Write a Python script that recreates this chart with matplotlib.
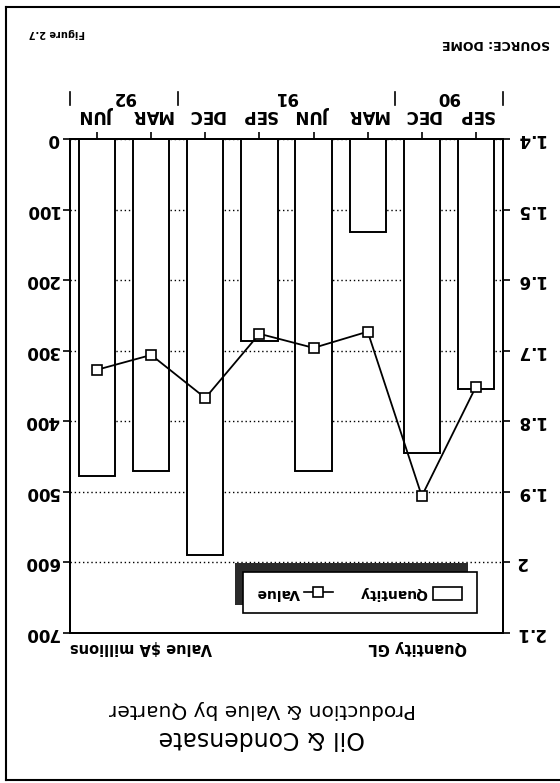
import matplotlib.pyplot as plt
from matplotlib.patches import Rectangle
from matplotlib.lines import Line2D
import matplotlib.transforms as mtransforms
import numpy as np

# quarters, Sep 1990 .. Jun 1992
months = ['SEP', 'DEC', 'MAR', 'JUN', 'SEP', 'DEC', 'MAR', 'JUN']
years = ['90', '91', '92']
year_centres = [0.5, 3.5, 6.5]   # middle of each year's group of quarters
year_breaks = [-0.5, 1.5, 5.5, 7.5]

quantity = [1.754, 1.845, 1.532, 1.870, 1.686, 1.990, 1.870, 1.877]  # GL
value = [351, 506, 273, 296, 276, 367, 306, 327]                      # $A millions

q_ticks = [1.4, 1.5, 1.6, 1.7, 1.8, 1.9, 2.0, 2.1]
q_labels = ['1.4', '1.5', '1.6', '1.7', '1.8', '1.9', '2', '2.1']
v_ticks = [0, 100, 200, 300, 400, 500, 600, 700]

W, H = 560, 783
def fx(px):
    return px / W
def fy(py):
    return 1 - py / H

plt.rcParams['font.family'] = 'DejaVu Sans'

fig = plt.figure(figsize=(5.6, 7.83), dpi=100)
fig.patch.set_facecolor('white')

# the scanned page is upside down, so both axes run backwards and text is turned 180
ax = fig.add_axes([fx(70), fy(633), fx(503) - fx(70), fy(139) - fy(633)])
ax2 = ax.twinx()

x = np.arange(len(months))
ax.bar(x, np.array(quantity) - 1.4, bottom=1.4, width=0.67,
       facecolor='white', edgecolor='black', linewidth=1.4, zorder=2)
ax.set_xlim(7.5, -0.5)
ax.set_ylim(2.1, 1.4)
ax.set_axisbelow(True)
ax.yaxis.grid(True, linestyle=(0, (1, 2)), color='black', linewidth=1.0)

ax2.plot(x, value, color='black', linewidth=1.3, marker='s', markersize=7.5,
         markerfacecolor='white', markeredgecolor='black', markeredgewidth=1.2)
ax2.set_ylim(700, 0)

tick_font = dict(fontsize=12, fontweight='bold', rotation=180)

ax.yaxis.tick_right()
ax.set_yticks(q_ticks, q_labels, va='center', **tick_font)
ax2.yaxis.tick_left()
ax2.set_yticks(v_ticks, [str(v) for v in v_ticks], va='center', **tick_font)

ax.xaxis.tick_top()
ax.set_xticks(x, months, **tick_font)
ax.tick_params(axis='x', direction='out', length=5, width=1.2, pad=6)
ax.tick_params(axis='y', direction='out', length=5, width=1.2, pad=4)
ax2.tick_params(axis='y', direction='out', length=5, width=1.2, pad=3)

for a in (ax, ax2):
    for s in a.spines.values():
        s.set_linewidth(1.4)

# year labels and dividers above the quarter labels
trans = mtransforms.blended_transform_factory(ax.transData, ax.transAxes)
for yc, yr in zip(year_centres, years):
    ax.text(yc, 1.085, yr, transform=trans, ha='center', va='center', **tick_font)
for xb in year_breaks:
    ax.add_line(Line2D([xb, xb], [1.068, 1.096], transform=trans, color='black',
                       linewidth=1.2, clip_on=False))

# axis titles
fig.text(fx(141), fy(647), 'Value $A millions', rotation=180, ha='center', va='center',
         fontsize=10.5, fontweight='bold')
fig.text(fx(418), fy(647), 'Quantity GL', rotation=180, ha='center', va='center',
         fontsize=10.5, fontweight='bold')

# title block
fig.text(fx(262), fy(738), 'Oil & Condensate', rotation=180, ha='center', va='center',
         fontsize=17)
fig.text(fx(262), fy(710), 'Production & Value by Quarter', rotation=180, ha='center',
         va='center', fontsize=14.5)

fig.text(fx(57), fy(33), 'Figure 2.7', rotation=180, ha='center', va='center',
         fontsize=7, fontweight='bold')
fig.text(fx(496), fy(43), 'SOURCE: DOME', rotation=180, ha='center', va='center',
         fontsize=9, fontweight='bold')

# legend box with its drop shadow
fig.patches.append(Rectangle((fx(235), fy(605)), fx(468) - fx(235), fy(563) - fy(605),
                             transform=fig.transFigure, facecolor='#2b2b2b',
                             edgecolor='none', zorder=5))
fig.patches.append(Rectangle((fx(243), fy(613)), fx(477) - fx(243), fy(572) - fy(613),
                             transform=fig.transFigure, facecolor='white',
                             edgecolor='black', linewidth=1.2, zorder=6))
fig.patches.append(Rectangle((fx(433), fy(600)), fx(462) - fx(433), fy(587) - fy(600),
                             transform=fig.transFigure, facecolor='white',
                             edgecolor='black', linewidth=1.2, zorder=7))
fig.text(fx(393), fy(593), 'Quantity', rotation=180, ha='center', va='center',
         fontsize=10, fontweight='bold', zorder=7)
fig.add_artist(Line2D([fx(304), fx(333)], [fy(592), fy(592)], transform=fig.transFigure,
                      color='black', linewidth=1.2, zorder=7))
fig.add_artist(Line2D([fx(318)], [fy(592)], transform=fig.transFigure, marker='s',
                      markersize=7.5, markerfacecolor='white', markeredgecolor='black',
                      markeredgewidth=1.2, zorder=8))
fig.text(fx(278), fy(593), 'Value', rotation=180, ha='center', va='center',
         fontsize=10, fontweight='bold', zorder=7)

# page frame (right edge falls off the scan)
for xs, ys in [([6, 6], [7, 780]), ([6, 560], [7, 7]), ([6, 560], [780, 780])]:
    fig.add_artist(Line2D([fx(v) for v in xs], [fy(v) for v in ys],
                          transform=fig.transFigure, color='black', linewidth=1.5))

fig.savefig('out.png', dpi=100)
